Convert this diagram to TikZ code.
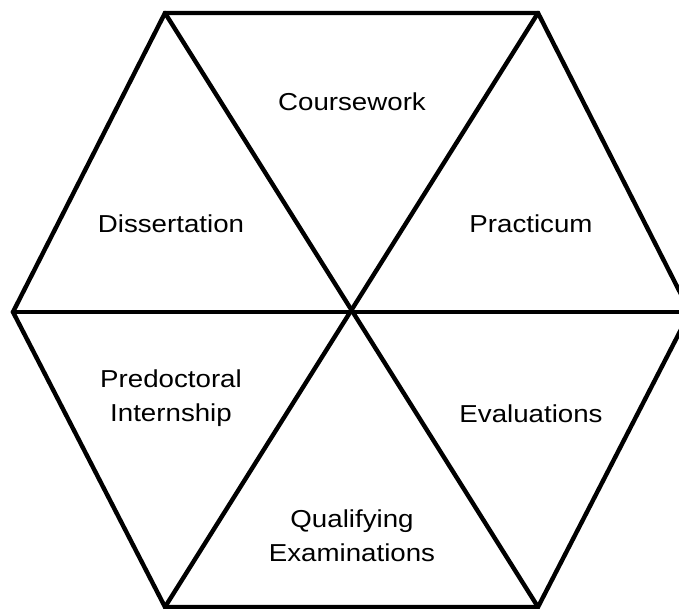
\documentclass[tikz,border=0pt]{standalone}
\usepackage{fontspec}
\setmainfont{Liberation Sans}[FakeStretch=1.13]
\begin{document}
\begin{tikzpicture}[x=1pt,y=-1pt,
  edge/.style={line width=4.4pt,line join=miter,line cap=round},
  lbl/.style={font=\fontsize{24.5}{34}\selectfont,align=center,inner sep=0pt}]
\useasboundingbox (0,0) rectangle (679,609);
% hexagon corners and centre
\coordinate (A) at (165,13);
\coordinate (B) at (538,13);
\coordinate (C) at (690,312);
\coordinate (D) at (538,607);
\coordinate (E) at (165,607);
\coordinate (F) at (13,312);
\coordinate (O) at (352,312);
% outline
\draw[edge] (A) -- (B) -- (C) -- (D) -- (E) -- (F) -- cycle;
% spokes
\draw[edge] (A) -- (D);
\draw[edge] (B) -- (E);
\draw[edge] (F) -- (C);
% segment labels
\node[lbl] (cw) at (352,102) {Coursework};
\node[lbl] (ds) at (171,224) {Dissertation};
\node[lbl] (pr) at (531,224) {Practicum};
\node[lbl] (pi) at (171,398) {Predoctoral\\Internship};
\node[lbl] (ev) at (531,414) {Evaluations};
\node[lbl] (qe) at (352,536) {Qualifying\\Examinations};
\end{tikzpicture}
\end{document}
